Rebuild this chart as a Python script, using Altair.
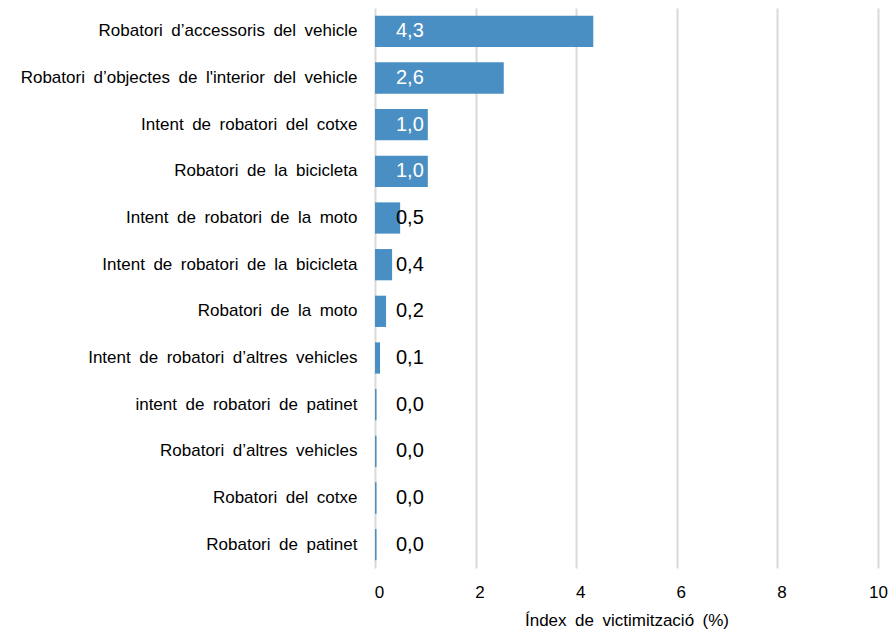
import altair as alt
import pandas as pd

categories = [
    "Robatori d\u2019accessoris del vehicle",
    "Robatori d\u2019objectes de l'interior del vehicle",
    "Intent de robatori del cotxe",
    "Robatori de la bicicleta",
    "Intent de robatori de la moto",
    "Intent de robatori de la bicicleta",
    "Robatori de la moto",
    "Intent de robatori d\u2019altres vehicles",
    "intent de robatori de patinet",
    "Robatori d\u2019altres vehicles",
    "Robatori del cotxe",
    "Robatori de patinet",
]
values = [4.34, 2.56, 1.05, 1.05, 0.50, 0.34, 0.22, 0.10, 0.03, 0.03, 0.03, 0.03]
labels = ["4,3", "2,6", "1,0", "1,0", "0,5", "0,4", "0,2", "0,1", "0,0", "0,0", "0,0", "0,0"]
x_title = "\u00cdndex de victimitzaci\u00f3 (%)"

df = pd.DataFrame({
    "cat": categories,
    "val": values,
    "lab": labels,
    "inside": [v >= 1 for v in values],
})

font = "Liberation Sans"
wide = "\u2002"  # wider word spacing as in the reference rendering

y_enc = alt.Y(
    "cat:N",
    sort=categories,
    title=None,
    scale=alt.Scale(paddingInner=0.33, paddingOuter=0.165),
    axis=alt.Axis(ticks=False, domain=False, grid=False, labelPadding=18,
                  labelFont=font, labelFontSize=17, labelColor="#000000",
                  labelLimit=400,
                  labelExpr="replace(datum.label, regexp(' ', 'g'), '" + wide + "')"),
)
x_enc = alt.X(
    "val:Q",
    title=x_title.replace(" ", wide),
    scale=alt.Scale(domain=[0, 10], nice=False),
    axis=alt.Axis(values=[0, 2, 4, 6, 8, 10], ticks=False, domain=False,
                  grid=True, gridColor="#d9d9d9", gridWidth=2,
                  labelFont=font, labelFontSize=17, labelColor="#000000",
                  labelPadding=16,
                  labelOffset={"condition": {"test": "datum.value == 10", "value": 0}, "value": 4},
                  labelFlush=False,
                  titleFont=font, titleFontSize=17, titleFontWeight="normal",
                  titleColor="#000000", titlePadding=12),
)

bars = alt.Chart(df).mark_bar(color="#4a8fc3").encode(x=x_enc, y=y_enc)

text = alt.Chart(df).mark_text(align="left", baseline="middle", font=font,
                               fontSize=20).encode(
    x=alt.value(21),
    y=alt.Y("cat:N", sort=categories),
    text="lab:N",
    color=alt.condition(alt.datum.inside, alt.value("#ffffff"), alt.value("#000000")),
)

chart = (bars + text).properties(
    width=503,
    height=560,
    autosize=alt.AutoSizeParams(type="none"),
    padding={"left": 367, "top": 0, "right": 10, "bottom": 62},
).configure_view(stroke=None)

chart.save("out.html", embed_options={"renderer": "svg", "actions": False})
